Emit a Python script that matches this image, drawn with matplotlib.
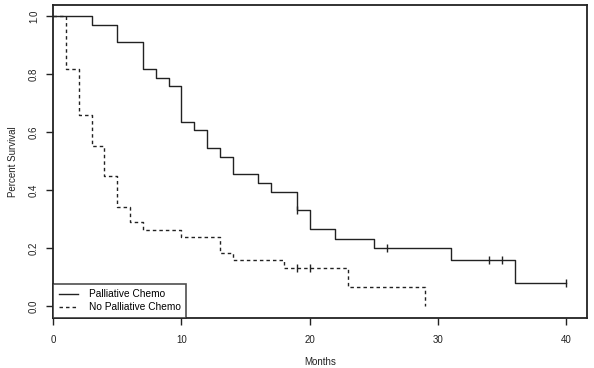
import matplotlib
matplotlib.use("Agg")
import matplotlib.pyplot as plt
import numpy as np
from matplotlib.lines import Line2D

plt.rcParams['font.family'] = ['Liberation Sans', 'DejaVu Sans']

# Palliative Chemo (solid)
pal_times = [0, 3, 5, 7, 8, 9, 10, 11, 12, 13, 14, 16, 17, 19, 20, 22, 25, 31, 36, 40]
pal_surv = [1.0, 0.970, 0.909, 0.818, 0.788, 0.758, 0.636, 0.606, 0.545, 0.515,
            0.455, 0.424, 0.394, 0.333, 0.267, 0.233, 0.200, 0.160, 0.080, 0.080]
pal_censor = [19, 26, 34, 35, 40]

# No Palliative Chemo (dashed)
nop_times = [0, 1, 2, 3, 4, 5, 6, 7, 10, 13, 14, 18, 23, 29]
nop_surv = [1.0, 0.816, 0.658, 0.553, 0.447, 0.342, 0.289, 0.263, 0.237, 0.184,
            0.158, 0.132, 0.066, 0.0]
nop_censor = [19, 20]

x_ticks = [0, 10, 20, 30, 40]
y_ticks = [0.0, 0.2, 0.4, 0.6, 0.8, 1.0]
labels = ["Palliative Chemo", "No Palliative Chemo"]


def step_value(times, surv, t):
    idx = np.searchsorted(times, t, side='right') - 1
    return surv[idx]


fig = plt.figure(figsize=(5.94, 3.68), dpi=100)
ax = fig.add_axes([53/594, 50/368, 534/594, 313/368])

col = '#222222'
dash = (0, (2.5, 2.2))
ax.step(pal_times, pal_surv, where='post', color=col, lw=1.0, ls='-')
ax.step(nop_times, nop_surv, where='post', color=col, lw=1.0, ls=dash)

ax.plot(pal_censor, [step_value(pal_times, pal_surv, t) for t in pal_censor],
        ls='none', marker='|', ms=5.5, mew=1.0, color=col)
ax.plot(nop_censor, [step_value(nop_times, nop_surv, t) for t in nop_censor],
        ls='none', marker='|', ms=5.5, mew=1.0, color=col)

ax.set_xlim(0, 41.6)
ax.set_ylim(-0.041, 1.038)
ax.set_xticks(x_ticks)
ax.set_xticklabels([str(v) for v in x_ticks])
ax.set_yticks(y_ticks)
ax.set_yticklabels([f"{v:.1f}" for v in y_ticks], rotation=90, va='center')
ax.tick_params(axis='both', direction='out', length=5, width=1.0, labelsize=7,
               colors='#222222', pad=7)
ax.tick_params(axis='y', pad=5)
for s in ax.spines.values():
    s.set_linewidth(1.3)
    s.set_color('#222222')

ax.set_xlabel("Months", fontsize=7, labelpad=9, color='#222222')
ax.set_ylabel("Percent Survival", fontsize=7, labelpad=8, color='#222222')

handles = [Line2D([], [], color=col, lw=1.0, ls='-'),
           Line2D([], [], color=col, lw=1.0, ls=dash)]
leg = ax.legend(handles, labels, loc='lower left', bbox_to_anchor=(0, 0),
                fontsize=7.3, frameon=True, fancybox=False, borderaxespad=0,
                handlelength=1.9, handletextpad=1.1, borderpad=0.55,
                labelspacing=0.3)
leg.get_frame().set_edgecolor('#222222')
leg.get_frame().set_linewidth(1.2)

fig.savefig("out.png", dpi=100)
